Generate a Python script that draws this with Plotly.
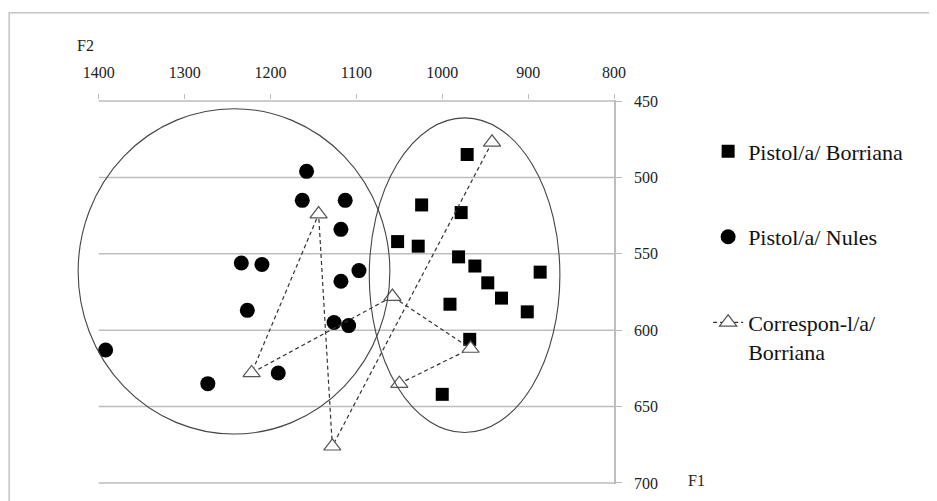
import plotly.graph_objects as go

# Pistol/a/ Borriana (squares)
bor_f1 = [971, 1024, 978, 1052, 1028, 981, 962, 947, 931, 886, 991, 901, 968, 1000]
bor_f2 = [485, 518, 523, 542, 545, 552, 558, 569, 579, 562, 583, 588, 606, 642]

# Pistol/a/ Nules (circles)
nul_f1 = [1158, 1163, 1113, 1118, 1234, 1210, 1097, 1118, 1227, 1126, 1109, 1392, 1191, 1273]
nul_f2 = [496, 515, 515, 534, 556, 557, 561, 568, 587, 595, 597, 613, 628, 635]

# Correspon-l/a/ Borriana (triangles, connected)
cor_f1 = [942, 1128, 1144, 1222, 1058, 967, 1050]
cor_f2 = [477, 676, 524, 628, 578, 612, 635]

x_ticks = [1400, 1300, 1200, 1100, 1000, 900, 800]
y_ticks = [450, 500, 550, 600, 650, 700]

# group ellipses (F1 left, F1 right, F2 top, F2 bottom)
ellipse_left = (1424, 1061, 455, 668)
ellipse_right = (1085, 863, 461, 667)

GRID = "#bdbdbd"
SERIF = "Liberation Serif, Times New Roman, serif"

fig = go.Figure()

fig.add_trace(go.Scatter(
    x=bor_f1, y=bor_f2, mode="markers", name="Pistol/a/ Borriana",
    marker=dict(symbol="square", size=13, color="black"),
    legendgroup="a", cliponaxis=False))
fig.add_trace(go.Scatter(
    x=nul_f1, y=nul_f2, mode="markers", name="Pistol/a/ Nules",
    marker=dict(symbol="circle", size=15, color="black"),
    legendgroup="b", cliponaxis=False))
fig.add_trace(go.Scatter(
    x=cor_f1, y=cor_f2, mode="lines+markers", name="Correspon-l/a/<br>Borriana",
    line=dict(color="#333333", width=1.2, dash="4px,3px"),
    marker=dict(symbol="triangle-up", size=15, color="white",
                line=dict(color="#555555", width=1.2)),
    legendgroup="c", cliponaxis=False))

shapes = []
# horizontal gridlines
for v in y_ticks[1:]:
    shapes.append(dict(type="line", xref="x", yref="y", x0=x_ticks[0], x1=x_ticks[-1],
                       y0=v, y1=v, line=dict(color=GRID, width=1.5), layer="below"))
# top axis line
shapes.append(dict(type="line", xref="x", yref="y", x0=x_ticks[0], x1=x_ticks[-1],
                   y0=y_ticks[0], y1=y_ticks[0], line=dict(color=GRID, width=1.5), layer="below"))
# ellipses
for (x0, x1, y0, y1) in (ellipse_left, ellipse_right):
    shapes.append(dict(type="circle", xref="x", yref="y", x0=x0, x1=x1, y0=y0, y1=y1,
                       line=dict(color="#444444", width=1.1), layer="above"))
# outer frame
shapes.append(dict(type="rect", xref="paper", yref="paper", x0=-0.118, x1=1.62,
                   y0=-0.08, y1=1.227, line=dict(color="#c4c4c4", width=1.5)))

fig.update_layout(
    width=937, height=501,
    margin=dict(l=65, r=331, t=92, b=25),
    paper_bgcolor="white", plot_bgcolor="white",
    shapes=shapes,
    showlegend=True,
    legend=dict(x=1.174, y=0.921, xanchor="left", yanchor="top", valign="top",
                font=dict(family=SERIF, size=22, color="#111111"),
                tracegroupgap=54, traceorder="grouped",
                bgcolor="rgba(0,0,0,0)"),
    xaxis=dict(range=[1430, 800], side="top", tickvals=x_ticks,
               ticks="outside", ticklen=5, tickcolor=GRID, tickwidth=1.3,
               showgrid=False, zeroline=False, showline=False,
               ticklabelstandoff=10,
               tickfont=dict(family=SERIF, size=16, color="#222222")),
    yaxis=dict(range=[700.7, 449.3], side="right", tickvals=y_ticks,
               ticks="outside", ticklen=6, tickcolor=GRID, tickwidth=1.3,
               showgrid=False, zeroline=False, showline=True, linecolor=GRID, linewidth=1.5,
               ticklabelstandoff=9,
               tickfont=dict(family=SERIF, size=16, color="#222222")),
    annotations=[
        dict(text="F2", xref="paper", yref="paper", x=0.024, y=1.143,
             xanchor="center", yanchor="middle",
             showarrow=False, font=dict(family=SERIF, size=16, color="#222222")),
        dict(text="F1", xref="paper", yref="paper", x=1.153, y=0.008,
             xanchor="center", yanchor="middle",
             showarrow=False, font=dict(family=SERIF, size=16, color="#222222")),
    ],
)

fig.write_html("out.html")
